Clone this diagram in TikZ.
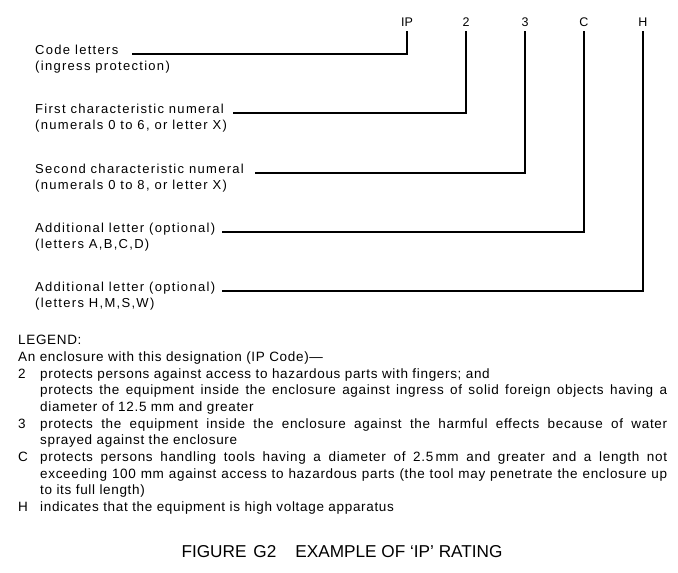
\documentclass[tikz,border=0pt]{standalone}
\usepackage{fontspec}
\setmainfont{Liberation Sans}
\newfontfamily\lblfont[LetterSpace=10]{Liberation Sans}
\newfontfamily\legfont[LetterSpace=5]{Liberation Sans}
\newcommand{\legline}[2]{\makebox[22pt][l]{#1}\makebox[627pt][s]{#2}}
\newcommand{\leglast}[2]{\makebox[22pt][l]{#1}#2}
\begin{document}
\begin{tikzpicture}[x=1pt,y=-1pt,
    lead/.style={line width=1.6pt},
    lbl/.style={anchor=base west, inner sep=0pt, font=\lblfont\fontsize{13pt}{16pt}\selectfont},
    code/.style={anchor=south, inner xsep=0pt, inner ysep=4pt, text depth=0pt, font=\fontsize{12.5pt}{16pt}\selectfont},
    legend/.style={anchor=north west, inner sep=0pt, align=left, font=\legfont\fontsize{13.5pt}{16.7pt}\selectfont},
    caption/.style={anchor=base, inner sep=0pt, font=\fontsize{17.2pt}{20pt}\selectfont}]
    \useasboundingbox (0,0) rectangle (678,573);
    % IP 2 3 C H
    \node[code] (ip) at (407,31) {IP};
    \node[code] (first) at (466,31) {2};
    \node[code] (second) at (525,31) {3};
    \node[code] (addc) at (584,31) {C};
    \node[code] (addh) at (643,31) {H};
    % labels
    \node[lbl] (tip) at (35,54) {Code letters};
    \node[lbl] (tip2) at (35,70.5) {(ingress protection)};
    \node[lbl] (tfirst) at (35,113) {First characteristic numeral};
    \node[lbl] (tfirst2) at (35,129.5) {(numerals 0 to 6, or letter X)};
    \node[lbl] (tsecond) at (35,173) {Second characteristic numeral};
    \node[lbl] (tsecond2) at (35,189.5) {(numerals 0 to 8, or letter X)};
    \node[lbl] (taddc) at (35,232) {Additional letter (optional)};
    \node[lbl] (taddc2) at (35,248.5) {(letters A,B,C,D)};
    \node[lbl] (taddh) at (35,291) {Additional letter (optional)};
    \node[lbl] (taddh2) at (35,307.5) {(letters H,M,S,W)};
    % leaders
    \coordinate (sip) at (132,54);
    \coordinate (sfirst) at (233,113);
    \coordinate (ssecond) at (255,173);
    \coordinate (saddc) at (222,232);
    \coordinate (saddh) at (222,291);
    \draw[lead] (sip) -| (ip.south);
    \draw[lead] (sfirst) -| (first.south);
    \draw[lead] (ssecond) -| (second.south);
    \draw[lead] (saddc) -| (addc.south);
    \draw[lead] (saddh) -| (addh.south);
    % legend
    \node[legend] (leg) at (18,335) {LEGEND:\\
        An enclosure with this designation (IP Code)—\\
        \leglast{2}{protects persons against access to hazardous parts with fingers; and}\\
        \legline{}{protects the equipment inside the enclosure against ingress of solid foreign objects having a}\\
        \leglast{}{diameter of 12.5 mm and greater}\\
        \legline{3}{protects the equipment inside the enclosure against the harmful effects because of water}\\
        \leglast{}{sprayed against the enclosure}\\
        \legline{C}{protects persons handling tools having a diameter of 2.5\,mm and greater and a length not}\\
        \legline{}{exceeding 100 mm against access to hazardous parts (the tool may penetrate the enclosure up}\\
        \leglast{}{to its full length)}\\
        \leglast{H}{indicates that the equipment is high voltage apparatus}};
    \node[caption] (cap) at (342,557) {FIGURE\hspace{7pt}G2\hspace{19pt}EXAMPLE OF ‘IP’ RATING};
\end{tikzpicture}
\end{document}
